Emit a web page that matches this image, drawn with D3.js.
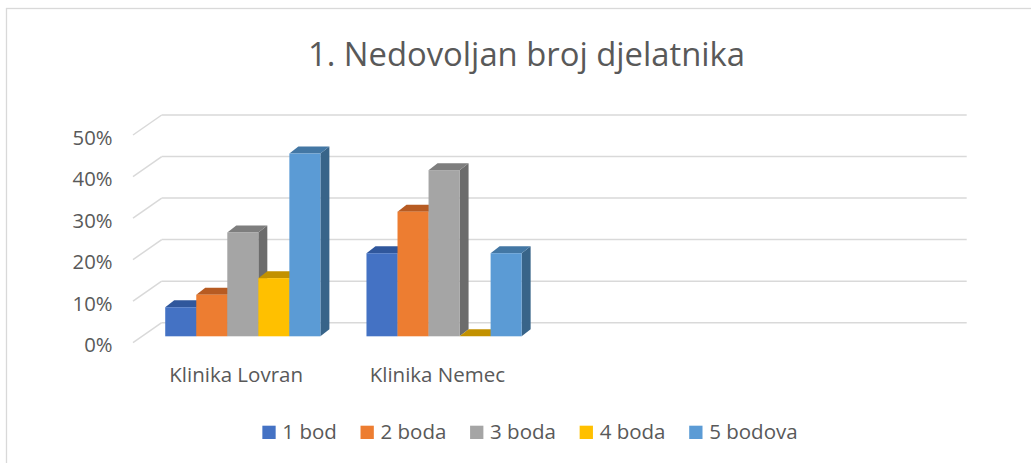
<!DOCTYPE html>
<html>
<head>
<meta charset="utf-8">
<script src="https://cdn.jsdelivr.net/npm/d3@7/dist/d3.min.js"></script>
<style>
  html, body { margin: 0; padding: 0; background: #fff; }
  svg { display: block; }
  text { font-family: "Open Sans", "Noto Sans", sans-serif; fill: #595959; }
</style>
</head>
<body>
<svg id="chart" width="1031" height="463"></svg>
<script>
// ---- data ----
const title = "1. Nedovoljan broj djelatnika";
const categories = ["Klinika Lovran", "Klinika Nemec", "", ""];
const seriesNames = ["1 bod", "2 boda", "3 boda", "4 boda", "5 bodova"];
const lovranValues = [0.07, 0.10, 0.25, 0.14, 0.44];
const nemecValues = [0.20, 0.30, 0.40, 0.00, 0.20];
const tickValues = [0, 0.1, 0.2, 0.3, 0.4, 0.5];
const frontColors = ["#4472C4", "#ED7D31", "#A5A5A5", "#FFC000", "#5B9BD5"];
const topColors   = ["#30579C", "#B75B22", "#7E7E7E", "#C29100", "#4377A4"];
const sideColors  = ["#2D4F8C", "#A9521D", "#6C6C6C", "#B08400", "#386489"];

const valuesByCategory = [lovranValues, nemecValues];

// ---- layout ----
const svg = d3.select("#chart");
const frontLeft = 133, frontRight = 938;
const wallDX = 28.7, wallDY = -20;
const barFrac = 0.32;                 // depth position of the bars' front faces
const barDX = 9, barDY = -7;          // depth of the bars themselves

// border (extends beyond right / bottom edges)
svg.append("rect")
  .attr("x", 6.5).attr("y", 8.5)
  .attr("width", 1040).attr("height", 470)
  .attr("fill", "none").attr("stroke", "#D9D9D9").attr("stroke-width", 1.3);

// title
svg.append("text")
  .attr("x", 526.5).attr("y", 65.5)
  .attr("text-anchor", "middle")
  .style("font-size", "32.8px")
  .text(title);

// scales
const yBack = d3.scaleLinear().domain([0, 0.5]).range([322.7, 115]);
const yFront = v => yBack(v) - wallDY;
const yBar = d3.scaleLinear().domain([0, 0.5])
  .range([yFront(0) + barFrac * wallDY, yFront(0.5) + barFrac * wallDY]);

const x0 = d3.scaleBand().domain(d3.range(categories.length))
  .range([frontLeft, frontRight]).paddingInner(0.229).paddingOuter(0.1145);
const x1 = d3.scaleBand().domain(d3.range(seriesNames.length))
  .range([0, x0.bandwidth()]);
const barShiftX = barFrac * wallDX;

// gridlines: back wall horizontals and side-wall diagonals
const grid = svg.append("g").attr("stroke", "#D9D9D9").attr("stroke-width", 1.5).attr("fill", "none");
grid.selectAll("line.back").data(tickValues).join("line")
  .attr("class", "back")
  .attr("x1", frontLeft + wallDX).attr("x2", frontRight + wallDX)
  .attr("y1", d => yBack(d)).attr("y2", d => yBack(d));
grid.selectAll("line.side").data(tickValues).join("line")
  .attr("class", "side")
  .attr("x1", frontLeft).attr("x2", frontLeft + wallDX)
  .attr("y1", d => yFront(d)).attr("y2", d => yBack(d));

// y tick labels
svg.append("g").selectAll("text").data(tickValues).join("text")
  .attr("x", 112.5).attr("y", d => yFront(d) + 9.7)
  .attr("text-anchor", "end")
  .style("font-size", "20.3px")
  .text(d3.format(".0%"));

// category labels
svg.append("g").selectAll("text").data(categories).join("text")
  .attr("x", (d, i) => x0(i) + x0.bandwidth() / 2 + 2.5)
  .attr("y", 381.7)
  .attr("text-anchor", "middle")
  .style("font-size", "20.5px")
  .text(d => d);

// bars
const barsG = svg.append("g");
valuesByCategory.forEach((vals, ci) => {
  const g = barsG.append("g");
  vals.forEach((v, si) => {
    const x = x0(ci) + x1(si) + barShiftX;
    const w = x1.bandwidth();
    const yt = yBar(v), yb = yBar(0);
    // side face
    g.append("polygon")
      .attr("points", [[x + w, yt], [x + w + barDX, yt + barDY], [x + w + barDX, yb + barDY], [x + w, yb]].join(" "))
      .attr("fill", sideColors[si]);
    // top face
    g.append("polygon")
      .attr("points", [[x, yt], [x + w, yt], [x + w + barDX, yt + barDY], [x + barDX, yt + barDY]].join(" "))
      .attr("fill", topColors[si]);
    // front face
    g.append("rect")
      .attr("x", x).attr("y", yt)
      .attr("width", w).attr("height", yb - yt)
      .attr("fill", frontColors[si]);
  });
});

// legend
const legend = svg.append("g");
const items = legend.selectAll("g").data(seriesNames).join("g");
items.append("rect").attr("width", 13.3).attr("height", 13.3)
  .attr("y", 425.7).attr("fill", (d, i) => frontColors[i]);
items.append("text").attr("y", 439).style("font-size", "20.5px").text(d => d);
let cursor = 0;
const positions = [];
items.each(function () {
  const tw = d3.select(this).select("text").node().getComputedTextLength();
  positions.push(cursor);
  cursor += 13.3 + 6.7 + tw + 23.7;
});
const totalW = cursor - 23.7;
const legendLeft = 530 - totalW / 2;
items.each(function (d, i) {
  const gx = legendLeft + positions[i];
  d3.select(this).select("rect").attr("x", gx);
  d3.select(this).select("text").attr("x", gx + 13.3 + 6.7);
});
</script>
</body>
</html>
